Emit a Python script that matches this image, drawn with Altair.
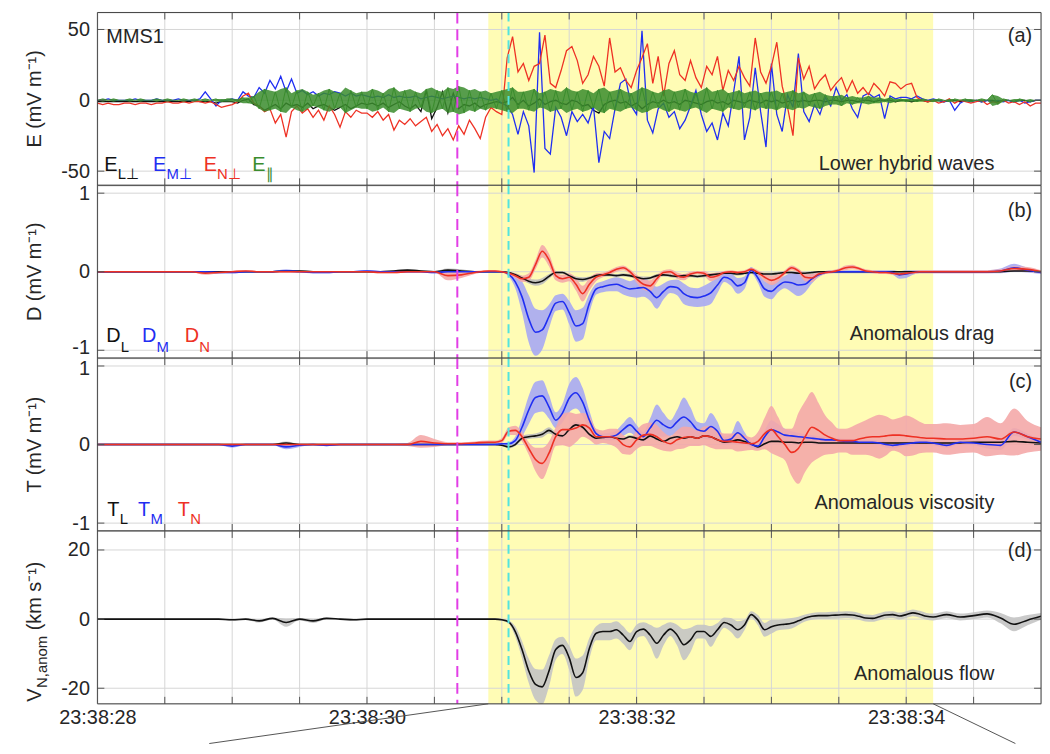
import altair as alt
import pandas as pd

W, H = 950, 174
FONT = "Liberation Sans"
INK = "#262626"
BLACK, BLUE, RED, GREEN = "#111111", "#1f2ef2", "#ee3124", "#3a8c2d"
BAND_L, BAND_M, BAND_N, BAND_V = "#bdbdbd", "#a7a8f3", "#f4a9a9", "#c4c4c4"
YELLOW = "#fffcb5"

# ---------------- sampling grids (seconds after 23:38:00) ----------------
T_E = [round(28 + 0.04 * i, 2) for i in range(176)]
T_S = ([round(28.0 + 0.1 * i, 2) for i in range(30)]
       + [round(30.95 + 0.05 * i, 2) for i in range(66)]
       + [round(34.3 + 0.1 * i, 2) for i in range(8)])

X_TICKS = [28, 28.5, 29, 29.5, 30, 30.5, 31, 31.5, 32, 32.5, 33, 33.5, 34, 34.5]
SHADE = [30.9, 34.2]
MAGENTA_T = 30.67
CYAN_T = 31.05
ZOOM_FROM = [30.9, 34.2]
ZOOM_TO = [28.83, 34.81]

# ---------------- (a) electric field, mV/m ----------------
E_L = ([-1,-1,-1,-1,-1,-1,-1,-1,-1,-1,-1,-1,-1,-1,-1,-1,-1,-1,0,-1,-1,-1,-2,-1,-1]
       + [-1,-2,0,1,-3,-4,-7,-5,-3,-6,-2,-4,-3,-5,-2,-6,-4,-3,-5,-7,-5,-3,-6,-4,-2]
       + [-3,-2,-4,-2,-5,-3,-1,-4,-6,-3,-8,7,-13,-5,6,-9,5,-6,-3,-4,-2,-5,-3,-2,-1]
       + [-2,-1,2,-3,0,-4,-2,1,-3,-1,0,-2,-3,0,-1,-4,-3,-7,-9,-3,-1,0,-2,-1,-4]
       + [-2,-6,-3,-1,-2,0,-2,-1,-3,0,-1,-2,-3,-1,0,-2,-1,-3,0,-1,-2,0,-1,-2,0]
       + [-1,0,-2,-1,0,-1,0,-1,0,0,-1,0,0,-1,0,0,-1,0,0,-1,0,0,0,-1,0]
       + [0,-1,0,0,-1,0,0,-1,0,0,-1,0,0,0,-1,0,0,-1,0,0,-1,0,0,-1,0]
       + [0])
E_M = ([0,0,1,0,0,0,0,1,0,0,0,1,0,0,0,1,0,0,0,1,6,1,-4,0,0]
       + [1,0,6,3,2,9,5,14,8,17,6,15,5,7,4,6,3,5,4,6,5,3,5,3,4]
       + [3,2,3,2,4,2,3,2,2,3,1,2,3,2,1,2,3,2,1,2,1,2,1,0,1]
       + [-2,-4,-10,-24,-8,-18,-51,48,-34,-38,-5,-12,-25,-8,-15,-10,-16,-4,-44,-22,-27,-6,12,15,-4]
       + [-10,49,-14,-23,-6,-2,-12,-8,-20,-14,-4,7,-10,-22,-16,-28,-9,-18,6,31,-28,-12,23,-8,-33]
       + [26,-10,-22,4,-5,33,-8,-15,-3,-10,2,-4,9,0,4,-6,-12,3,5,2,4,-13,3,1,2]
       + [2,1,3,1,0,1,0,-1,0,-7,-2,0,-1,0,-1,0,-1,0,-1,0,-1,0,-2,-1,0]
       + [0])
E_N = ([-2,-3,-2,-3,-3,-2,-2,-3,-2,-2,-3,-2,-2,-1,-2,-2,-1,-2,-1,-1,-2,-1,-3,-5,-4]
       + [-3,-1,3,5,-2,-4,-8,-6,-16,-10,-26,-8,-4,-9,-6,-12,-7,-14,-4,-10,-19,-8,-12,-7,-9]
       + [-9,-12,-8,-14,-10,-21,-14,-17,-13,-18,-15,-12,-22,-17,-25,-20,-28,-18,-24,-14,-20,-27,-12,-5,-8]
       + [-10,30,45,20,26,14,24,26,46,12,9,21,35,38,28,12,18,31,24,10,44,20,23,14,9]
       + [21,30,40,12,31,3,26,35,18,14,28,16,9,24,18,31,7,21,14,24,16,10,44,20,12]
       + [24,41,10,-5,-25,30,15,24,8,14,18,7,12,16,6,14,5,9,4,12,8,3,13,12,8]
       + [11,12,2,0,-1,0,-2,-1,1,-2,0,-1,-2,-1,0,-3,-1,-2,0,-2,-1,-3,-1,-4,-2]
       + [-2])
E_PAR = ([0,1,0,1,0,0,1,0,1,0,0,1,0,1,0,0,1,0,1,0,1,0,1,-1,1]
         + [1,-1,2,-2,3,-6,8,-7,6,-8,9,-5,7,-8,6,-4,5,-7,8,-6,5,-9,7,-5,6]
         + [-6,8,-7,5,-8,9,-6,7,-8,6,-5,8,-9,7,-6,9,-8,10,-9,7,-8,6,-7,5,-6]
         + [7,-8,9,-6,6,-7,8,-5,6,-8,7,-6,9,-7,6,-8,7,-5,8,-9,6,-7,8,-6,5]
         + [-7,9,-8,6,-5,7,-8,6,-7,8,-6,5,-7,9,-6,7,-8,5,-6,7,-5,6,-7,5,-6]
         + [6,-7,5,-6,7,-5,6,-4,5,-6,4,-3,3,-4,2,-3,2,-2,3,-2,2,-1,2,-1,1]
         + [-1,1,-1,1,0,-1,1,0,-1,1,0,1,-1,0,1,0,4,-3,1,0,-1,1,0,-1,0]
         + [0])

# ---------------- (b) anomalous drag D, mV/m (value, half-width) ----------------
D_L = ([0,0,0,0,0,0,0,0,0,0, 0,0,0,0,0.01,0.01,0,0,0,0, 0,0,0.01,0.02,0.01,0,0.02,0.01,0,0]
       + [0,0,-0.01,-0.04,-0.08,-0.12,-0.14,-0.12,-0.06,-0.01,
          -0.01,-0.05,-0.09,-0.1,-0.08,-0.05,-0.04,-0.04,-0.05,-0.04,
          -0.05,-0.07,-0.09,-0.08,-0.05,-0.04,-0.05,-0.06,-0.05,-0.05,
          -0.06,-0.05,-0.04,-0.03,-0.02,-0.02,-0.03,-0.02,-0.01,-0.02,
          -0.03,-0.03,-0.02,-0.01,-0.01,-0.02,-0.02,-0.01,0,0,
          0,0,0,0,0,0,0,0,0,0,
          0,0,0,0,0,0]
       + [0,0,0,0,0,0.01,0.01,0])
D_L_ERR = ([0.01,0.01,0.01,0.01,0.01,0.01,0.01,0.01,0.01,0.01, 0.01,0.01,0.01,0.01,0.01,0.01,0.01,0.01,0.01,0.01,
            0.01,0.01,0.01,0.01,0.01,0.01,0.02,0.02,0.01,0.01]
           + [0.01,0.01,0.01,0.02,0.03,0.03,0.04,0.04,0.03,0.02,
              0.02,0.02,0.03,0.03,0.02,0.02,0.02,0.02,0.02,0.02,
              0.02,0.02,0.03,0.02,0.02,0.02,0.02,0.02,0.02,0.02,
              0.02,0.02,0.02,0.02,0.02,0.02,0.02,0.02,0.02,0.02,
              0.02,0.02,0.02,0.02,0.02,0.02,0.02,0.02,0.01,0.01,
              0.01,0.01,0.01,0.01,0.01,0.01,0.01,0.01,0.01,0.01,
              0.01,0.01,0.01,0.01,0.01,0.01]
           + [0.01,0.01,0.01,0.01,0.01,0.01,0.01,0.01])
D_M = ([0,0,0,0,0,0,0,0,0,-0.01, -0.01,0,0,0,0.01,0,-0.01,-0.01,0,0, 0.01,0,0,0,0,-0.01,0,0,0,0]
       + [0.0,0.0,-0.03,-0.13,-0.32,-0.60,-0.77,-0.74,-0.57,-0.40,
          -0.38,-0.52,-0.69,-0.66,-0.40,-0.22,-0.19,-0.17,-0.16,-0.19,
          -0.22,-0.21,-0.20,-0.25,-0.33,-0.25,-0.19,-0.20,-0.28,-0.32,
          -0.33,-0.31,-0.27,-0.17,-0.07,-0.10,-0.18,-0.14,0.02,-0.08,
          -0.22,-0.25,-0.18,-0.13,-0.14,-0.17,-0.16,-0.09,-0.04,-0.01,
          0.0,0.0,0.0,0.0,0.0,0.0,0.0,0.0,0.0,-0.01,
          -0.04,-0.03,-0.01,0.0,0.0,0.0]
       + [0,0,0,0,0.01,0.05,0.02,-0.01])
D_M_ERR = ([0.01,0.01,0.01,0.01,0.01,0.01,0.01,0.01,0.01,0.01, 0.01,0.01,0.01,0.01,0.02,0.01,0.01,0.01,0.01,0.01,
            0.01,0.01,0.01,0.01,0.01,0.01,0.01,0.01,0.01,0.01]
           + [0.01,0.01,0.03,0.08,0.2,0.3,0.3,0.25,0.15,0.1,
              0.1,0.15,0.2,0.2,0.12,0.07,0.07,0.08,0.09,0.1,
              0.1,0.12,0.12,0.12,0.14,0.1,0.08,0.1,0.13,0.12,
              0.12,0.13,0.14,0.1,0.06,0.08,0.1,0.08,0.04,0.06,
              0.1,0.1,0.08,0.08,0.12,0.14,0.1,0.06,0.03,0.02,
              0.02,0.02,0.02,0.02,0.02,0.02,0.02,0.02,0.02,0.03,
              0.05,0.05,0.03,0.02,0.02,0.02]
           + [0.02,0.02,0.02,0.02,0.03,0.05,0.03,0.02])
D_N = ([0,0,0,0,0,0,0,0,-0.02,-0.01, 0,0.01,0,0,0,0,0,0,0,0, 0,-0.01,-0.01,0,0,0,-0.05,-0.04,-0.01,0.01]
       + [0.01,0.0,-0.02,-0.05,-0.09,-0.07,0.09,0.26,0.15,-0.05,
          -0.09,-0.07,-0.16,-0.28,-0.16,-0.07,-0.04,-0.01,0.03,0.05,
          0.0,-0.09,-0.16,-0.18,-0.09,-0.01,0.0,-0.05,-0.07,-0.03,
          -0.01,-0.02,-0.07,-0.05,-0.01,0.0,-0.01,0.0,0.03,-0.01,
          -0.07,-0.11,-0.08,-0.01,0.05,0.01,-0.07,-0.08,-0.03,-0.01,
          0.0,0.02,0.05,0.06,0.04,0.01,0.0,-0.01,-0.01,-0.02,
          -0.03,-0.02,-0.01,0.0,0.0,0.0]
       + [0,0,0,0,0.01,0.04,0.03,0.0])
D_N_ERR = ([0.01,0.01,0.01,0.01,0.01,0.01,0.01,0.01,0.02,0.01, 0.01,0.01,0.01,0.01,0.01,0.01,0.01,0.01,0.01,0.01,
            0.01,0.01,0.01,0.01,0.01,0.01,0.06,0.04,0.02,0.01]
           + [0.01,0.01,0.02,0.03,0.04,0.05,0.06,0.08,0.08,0.06,
              0.05,0.05,0.08,0.1,0.08,0.05,0.03,0.03,0.03,0.03,
              0.03,0.05,0.07,0.07,0.05,0.03,0.03,0.04,0.04,0.03,
              0.02,0.03,0.05,0.04,0.02,0.02,0.02,0.02,0.02,0.03,
              0.05,0.06,0.05,0.03,0.03,0.03,0.05,0.05,0.03,0.02,
              0.02,0.02,0.03,0.03,0.02,0.02,0.02,0.02,0.02,0.02,
              0.02,0.02,0.02,0.02,0.02,0.02]
           + [0.02,0.02,0.02,0.02,0.02,0.03,0.03,0.02])

# ---------------- (c) anomalous viscosity T, mV/m ----------------
T_L = ([0,0,0,0,0,0,0,0,0,0, 0,0,0,0,0.02,0,0,0,0,0, 0,0,0,0,0,0,0,0,0,0]
       + [0.0,-0.01,-0.03,0.0,0.08,0.10,0.11,0.13,0.18,0.13,
          0.11,0.19,0.25,0.22,0.13,0.08,0.09,0.10,0.08,0.07,
          0.10,0.08,0.06,0.11,0.07,0.04,0.08,0.10,0.08,0.10,
          0.08,0.11,0.10,0.06,0.03,0.04,0.06,0.04,0.01,-0.03,
          0.01,0.04,0.04,0.03,0.03,0.02,0.03,0.03,0.02,0.02,
          0.02,0.02,0.02,0.02,0.02,0.02,0.02,0.02,0.02,0.02,
          0.02,0.02,0.02,0.02,0.02,0.02]
       + [0.02,0.02,0.03,0.03,0.03,0.04,0.03,0.02])
T_L_ERR = ([0.01,0.01,0.01,0.01,0.01,0.01,0.01,0.01,0.01,0.01, 0.01,0.01,0.01,0.01,0.02,0.01,0.01,0.01,0.01,0.01,
            0.01,0.01,0.01,0.01,0.01,0.01,0.01,0.01,0.01,0.01]
           + [0.01,0.01,0.02,0.02,0.03,0.03,0.03,0.04,0.04,0.03,
              0.03,0.03,0.04,0.03,0.03,0.02,0.02,0.02,0.02,0.02,
              0.02,0.02,0.02,0.02,0.02,0.02,0.02,0.02,0.02,0.02,
              0.02,0.02,0.02,0.02,0.02,0.02,0.02,0.02,0.02,0.02,
              0.02,0.02,0.02,0.02,0.02,0.02,0.02,0.02,0.02,0.02,
              0.01,0.01,0.01,0.01,0.01,0.01,0.01,0.01,0.01,0.01,
              0.01,0.01,0.01,0.01,0.01,0.01]
           + [0.01,0.01,0.01,0.01,0.01,0.02,0.01,0.01])
T_M = ([0,0,0,0,0,0,0,0,0,0, -0.02,0,0,0,-0.03,-0.01,0,-0.01,0,0, 0,0,0,0,0,0,0,0,0,0]
       + [0.0,0.01,0.01,0.05,0.22,0.44,0.60,0.62,0.48,0.31,
          0.40,0.59,0.66,0.54,0.31,0.14,0.10,0.10,0.12,0.19,
          0.25,0.17,0.10,0.21,0.31,0.25,0.21,0.29,0.35,0.29,
          0.19,0.17,0.23,0.17,0.05,0.07,0.15,0.08,0.0,-0.02,
          0.10,0.19,0.16,0.12,0.11,0.10,0.09,0.08,0.07,0.06,
          0.06,0.05,0.04,0.04,0.03,0.03,0.03,0.02,0.0,-0.01,
          0.0,0.01,0.02,0.03,0.03,0.02]
       + [-0.01,0.03,0.02,0.0,-0.01,0.16,0.1,0.03])
T_M_ERR = ([0.01,0.01,0.01,0.01,0.01,0.01,0.01,0.01,0.01,0.01, 0.02,0.01,0.01,0.01,0.03,0.02,0.01,0.01,0.01,0.01,
            0.01,0.01,0.01,0.01,0.01,0.01,0.01,0.01,0.01,0.01]
           + [0.01,0.01,0.02,0.05,0.12,0.18,0.2,0.2,0.15,0.1,
              0.12,0.18,0.2,0.18,0.12,0.05,0.04,0.05,0.06,0.08,
              0.1,0.08,0.06,0.12,0.2,0.15,0.1,0.15,0.25,0.18,
              0.1,0.1,0.17,0.12,0.05,0.06,0.15,0.08,0.04,0.04,
              0.08,0.12,0.1,0.08,0.06,0.05,0.04,0.04,0.04,0.04,
              0.03,0.03,0.03,0.03,0.03,0.03,0.03,0.03,0.04,0.04,
              0.03,0.03,0.03,0.03,0.03,0.03]
           + [0.03,0.03,0.03,0.05,0.06,0.05,0.04,0.03])
T_N = ([0,0,0,0,0,0,0,0,0,0, 0,0,0,0,0,0,0,0,0,0, 0,0,0,0,0.04,0.02,0.01,0.01,0.02,0.03]
       + [0.03,0.05,0.17,0.18,0.10,-0.05,-0.19,-0.24,-0.11,0.10,
          0.19,0.19,0.21,0.25,0.21,0.10,0.10,0.10,0.08,0.0,
          -0.03,0.06,0.12,0.13,0.10,0.04,0.01,0.06,0.09,0.10,
          0.08,0.11,0.10,0.06,0.04,0.04,0.03,0.02,0.01,0.04,
          0.14,0.19,0.10,0.0,-0.10,-0.05,0.10,0.22,0.18,0.12,
          0.08,0.05,0.05,0.05,0.07,0.09,0.10,0.10,0.11,0.12,
          0.12,0.11,0.10,0.09,0.08,0.08]
       + [0.07,0.07,0.08,0.10,0.07,0.16,0.10,0.07])
T_N_ERR = ([0.01,0.01,0.01,0.01,0.01,0.01,0.01,0.01,0.01,0.01, 0.01,0.01,0.01,0.01,0.01,0.01,0.01,0.01,0.01,0.01,
            0.01,0.01,0.01,0.02,0.08,0.05,0.02,0.02,0.02,0.02]
           + [0.02,0.03,0.05,0.06,0.06,0.08,0.15,0.2,0.15,0.12,
              0.2,0.22,0.18,0.15,0.15,0.1,0.08,0.1,0.12,0.12,
              0.1,0.12,0.14,0.15,0.15,0.12,0.1,0.12,0.14,0.12,
              0.1,0.12,0.14,0.12,0.1,0.1,0.12,0.1,0.08,0.12,
              0.2,0.3,0.25,0.2,0.3,0.45,0.45,0.45,0.35,0.25,
              0.2,0.15,0.15,0.18,0.2,0.22,0.25,0.28,0.25,0.2,
              0.22,0.26,0.24,0.2,0.18,0.18]
           + [0.2,0.18,0.18,0.25,0.2,0.3,0.2,0.15])

# ---------------- (d) anomalous flow V_N,anom, km/s ----------------
V_N = ([0,0,0,0,0,0,0,0,0,0, -0.2,0,-0.5,0.2,-1.0,0,-0.5,0.2,0,-0.2, 0,0,0,0,0,0,0,0,0,0]
       + [0.0,-0.2,-0.8,-3.6,-8.8,-15.0,-18.9,-19.6,-15.0,-8.8,
          -7.6,-11.2,-16.9,-15.5,-8.4,-4.1,-3.6,-3.6,-3.1,-4.6,
          -6.5,-3.6,-2.9,-4.6,-7.0,-4.6,-2.9,-4.6,-7.4,-6.0,
          -3.6,-3.6,-5.0,-3.1,-1.0,-1.7,-3.1,-1.7,1.3,-0.3,
          -3.1,-2.2,-1.7,-1.5,-1.2,-0.5,0.3,0.8,1.0,1.0,
          1.1,1.2,1.3,1.2,0.8,0.3,0.2,0.7,1.2,1.3,
          0.9,1.3,1.8,1.4,0.8,0.6]
       + [1.3,0.6,1.0,1.5,0.3,-1.5,-0.3,0.8])
V_N_ERR = ([0.2,0.2,0.2,0.2,0.2,0.2,0.2,0.2,0.2,0.2, 0.3,0.2,0.5,0.3,1.2,0.3,0.6,0.3,0.2,0.3,
            0.2,0.2,0.2,0.2,0.2,0.2,0.2,0.2,0.2,0.2]
           + [0.2,0.3,0.5,1.5,2.5,3.5,4.5,5.0,4.5,3.0,
              2.5,3.5,5.5,5.0,3.0,2.0,2.5,2.5,2.5,2.5,
              2.5,2.0,2.0,3.0,4.5,3.0,2.0,3.0,4.5,3.5,
              2.0,2.0,3.0,2.0,1.5,2.0,2.5,1.5,1.0,1.5,
              2.0,2.0,1.5,1.5,1.5,1.2,1.0,1.0,1.0,1.0,
              1.0,1.0,1.0,1.0,1.0,1.0,1.0,1.0,1.0,1.0,
              1.0,1.0,1.0,1.0,1.0,1.0]
           + [1.0,1.0,1.0,1.0,1.5,2.0,1.5,1.0])

# ---------------- helpers ----------------
XSC = alt.Scale(domain=[28, 35], nice=False, zero=False)
XAX = alt.Axis(values=X_TICKS,
               labelExpr="datum.value % 2 == 0 ? '23:38:' + datum.value : ''",
               labelFont=FONT, labelFontSize=20, labelColor=INK, labelPadding=4,
               labelFlush=False, labelOverlap=False, ticks=False, domain=False,
               grid=False, title=None)


def one():
    return alt.Data(values=[{}])


def text(s, x, y, size=20, color=INK, align="left", baseline="alphabetic", angle=None):
    kw = dict(font=FONT, fontSize=size, color=color, align=align, baseline=baseline)
    if angle is not None:
        kw["angle"] = angle
    return alt.Chart(one()).mark_text(**kw).encode(
        x=alt.value(x), y=alt.value(y), text=alt.value(s))


def frame_rule(x, x2, y, y2):
    return alt.Chart(one()).mark_rule(color="#444444", strokeWidth=1).encode(
        x=alt.value(x), x2=alt.value(x2), y=alt.value(y), y2=alt.value(y2))


def band_layer(X, Y, t, v, e, c):
    rows = [{"t": a, "lo": b - d, "hi": b + d} for a, b, d in zip(t, v, e)]
    return (alt.Chart(pd.DataFrame(rows))
            .mark_area(color=c, opacity=0.9, interpolate="monotone", clip=True)
            .encode(x=X, y=Y("lo"), y2="hi:Q"))


def line_layer(X, Y, t, v, c, w, interp):
    rows = [{"t": a, "v": b} for a, b in zip(t, v)]
    return (alt.Chart(pd.DataFrame(rows))
            .mark_line(color=c, strokeWidth=w, interpolate=interp, clip=True)
            .encode(x=X, y=Y("v")))


def envelope_layer(X, Y, t, v, c):
    # dense high-frequency oscillation drawn as its own envelope |v|
    rows = [{"t": a, "lo": -abs(b), "hi": abs(b)} for a, b in zip(t, v)]
    return (alt.Chart(pd.DataFrame(rows))
            .mark_area(color=c, opacity=0.85, interpolate="linear", clip=True)
            .encode(x=X, y=Y("lo"), y2="hi:Q"))


def panel(ydom, yticks, data_fn, texts, bottom=False, extra=None, label_cond=None):
    X = alt.X("t:Q", scale=XSC, axis=XAX if bottom else None)
    ysc = alt.Scale(domain=ydom, nice=False, zero=False)
    ax_kw = dict(values=yticks, labelExpr="'' + datum.value", labelFont=FONT,
                 labelFontSize=20, labelColor=INK, labelPadding=8, ticks=False,
                 domain=False, grid=False, title=None)
    if label_cond is not None:
        ax_kw["labelOffset"] = {"condition": {"test": label_cond[0], "value": label_cond[1]},
                                "value": 0}
    yax = alt.Axis(**ax_kw)

    def Y(f):
        return alt.Y(f + ":Q", scale=ysc, axis=yax)

    xg = pd.DataFrame({"t": X_TICKS[1:]})
    yg = pd.DataFrame({"v": yticks})
    L = []
    L.append(alt.Chart(pd.DataFrame({"t": [SHADE[0]], "t2": [SHADE[1]]}))
             .mark_rect(color=YELLOW)
             .encode(x=X, x2="t2:Q", y=alt.value(0), y2=alt.value(H)))
    L.append(alt.Chart(xg).mark_rule(color="#d6d6d6", strokeWidth=1)
             .encode(x=X, y=alt.value(0), y2=alt.value(H)))
    L.append(alt.Chart(yg).mark_rule(color="#d6d6d6", strokeWidth=1)
             .encode(y=Y("v"), x=alt.value(0), x2=alt.value(W)))
    L += data_fn(X, Y)
    L.append(alt.Chart(pd.DataFrame({"t": [MAGENTA_T]}))
             .mark_rule(color="#e23ee6", strokeWidth=2, strokeDash=[11, 6])
             .encode(x=X, y=alt.value(0), y2=alt.value(H)))
    L.append(alt.Chart(pd.DataFrame({"t": [CYAN_T]}))
             .mark_rule(color="#52e3df", strokeWidth=2, strokeDash=[9, 5])
             .encode(x=X, y=alt.value(0), y2=alt.value(H)))
    # inward ticks
    L.append(alt.Chart(xg).mark_rule(color="#555555", strokeWidth=1)
             .encode(x=X, y=alt.value(0), y2=alt.value(7)))
    L.append(alt.Chart(xg).mark_rule(color="#555555", strokeWidth=1)
             .encode(x=X, y=alt.value(H - 7), y2=alt.value(H)))
    L.append(alt.Chart(yg).mark_rule(color="#555555", strokeWidth=1)
             .encode(y=Y("v"), x=alt.value(0), x2=alt.value(7)))
    L.append(alt.Chart(yg).mark_rule(color="#555555", strokeWidth=1)
             .encode(y=Y("v"), x=alt.value(W - 7), x2=alt.value(W)))
    # frame
    L += [frame_rule(0, W, 0, 0), frame_rule(0, W, H, H),
          frame_rule(0, 0, 0, H), frame_rule(W, W, 0, H)]
    if extra is not None:
        L += extra(X)
    L += texts
    return alt.layer(*L).properties(width=W, height=H)


# ---------------- panels ----------------
texts_a = [
    text("E (mV m⁻¹)", -57, H / 2, align="center", angle=270),
    text("MMS1", 9, 25, baseline="middle"),
    text("(a)", W - 9, 23.5, align="right", baseline="middle"),
    text("Lower hybrid waves", W - 47, 159, align="right"),
    text("E", 7, 160, color=BLACK), text("L⊥", 20.5, 168, size=15, color=BLACK),
    text("E", 56, 160, color=BLUE), text("M⊥", 69.5, 168, size=15, color=BLUE),
    text("E", 107, 160, color=RED), text("N⊥", 120.5, 168, size=15, color=RED),
    text("E", 156, 160, color=GREEN), text("∥", 170, 168, size=15, color=GREEN),
    alt.Chart(one()).mark_rule(opacity=0).encode(
        x=alt.value(-89), y=alt.value(0), y2=alt.value(4)),
]


def data_a(X, Y):
    return [line_layer(X, Y, T_E, E_L, BLACK, 1.3, "linear"),
            line_layer(X, Y, T_E, E_M, BLUE, 1.3, "linear"),
            line_layer(X, Y, T_E, E_N, RED, 1.3, "linear"),
            envelope_layer(X, Y, T_E, E_PAR, GREEN),
            line_layer(X, Y, T_E, E_PAR, GREEN, 1.0, "linear")]


pa = panel([-60, 62], [-50, 0, 50], data_a, texts_a)

texts_b = [
    text("D (mV m⁻¹)", -57, H / 2, align="center", angle=270),
    text("(b)", W - 9, 26, align="right", baseline="middle"),
    text("Anomalous drag", W - 47, 156, align="right"),
    text("D", 9, 158, color=BLACK), text("L", 23.5, 168, size=15, color=BLACK),
    text("D", 45, 158, color=BLUE), text("M", 59.5, 168, size=15, color=BLUE),
    text("D", 88, 158, color=RED), text("N", 102.5, 168, size=15, color=RED),
]


def data_b(X, Y):
    return [band_layer(X, Y, T_S, D_L, D_L_ERR, BAND_L),
            band_layer(X, Y, T_S, D_M, D_M_ERR, BAND_M),
            band_layer(X, Y, T_S, D_N, D_N_ERR, BAND_N),
            line_layer(X, Y, T_S, D_L, BLACK, 1.6, "monotone"),
            line_layer(X, Y, T_S, D_M, BLUE, 1.6, "monotone"),
            line_layer(X, Y, T_S, D_N, RED, 1.6, "monotone")]


pb = panel([-1.1, 1.1], [-1, 0, 1], data_b, texts_b,
           label_cond=("datum.value == -1", -3))

texts_c = [
    text("T (mV m⁻¹)", -57, H / 2, align="center", angle=270),
    text("(c)", W - 9, 24, align="right", baseline="middle"),
    text("Anomalous viscosity", W - 47, 152, align="right"),
    text("T", 10, 159, color=BLACK), text("L", 22.5, 167, size=15, color=BLACK),
    text("T", 41, 159, color=BLUE), text("M", 53.5, 167, size=15, color=BLUE),
    text("T", 81, 159, color=RED), text("N", 93.5, 167, size=15, color=RED),
]


def data_c(X, Y):
    return [band_layer(X, Y, T_S, T_L, T_L_ERR, BAND_L),
            band_layer(X, Y, T_S, T_M, T_M_ERR, BAND_M),
            band_layer(X, Y, T_S, T_N, T_N_ERR, BAND_N),
            line_layer(X, Y, T_S, T_L, BLACK, 1.6, "monotone"),
            line_layer(X, Y, T_S, T_M, BLUE, 1.6, "monotone"),
            line_layer(X, Y, T_S, T_N, RED, 1.6, "monotone")]


pc = panel([-1.1, 1.1], [-1, 0, 1], data_c, texts_c,
           label_cond=("datum.value == 1", 3))

texts_d = [
    text("V", -57, 172, align="left", angle=270),
    text("N,anom", -51, 158, size=15, align="left", angle=270),
    text("(km s⁻¹)", -57, 100, align="left", angle=270),
    text("(d)", W - 9, 20, align="right", baseline="middle"),
    text("Anomalous flow", W - 47, 150, align="right"),
]


def data_d(X, Y):
    return [band_layer(X, Y, T_S, V_N, V_N_ERR, BAND_V),
            line_layer(X, Y, T_S, V_N, BLACK, 1.6, "monotone")]


def zoom_lines(X):
    df = pd.DataFrame({"t": ZOOM_FROM, "t2": ZOOM_TO})
    return [alt.Chart(df).mark_rule(color="#555555", strokeWidth=1)
            .encode(x=X, x2="t2:Q", y=alt.value(H), y2=alt.value(H + 40))]


pd_ = panel([-24.5, 25.5], [-20, 0, 20], data_d, texts_d, bottom=True, extra=zoom_lines)

chart = (alt.vconcat(pa, pb, pc, pd_, spacing=0, bounds="flush")
         .properties(padding={"left": 0, "top": 0, "right": 0, "bottom": 0})
         .configure_view(stroke=None)
         .configure(font=FONT))

chart.save("out.html", embed_options={"renderer": "svg", "actions": False})
